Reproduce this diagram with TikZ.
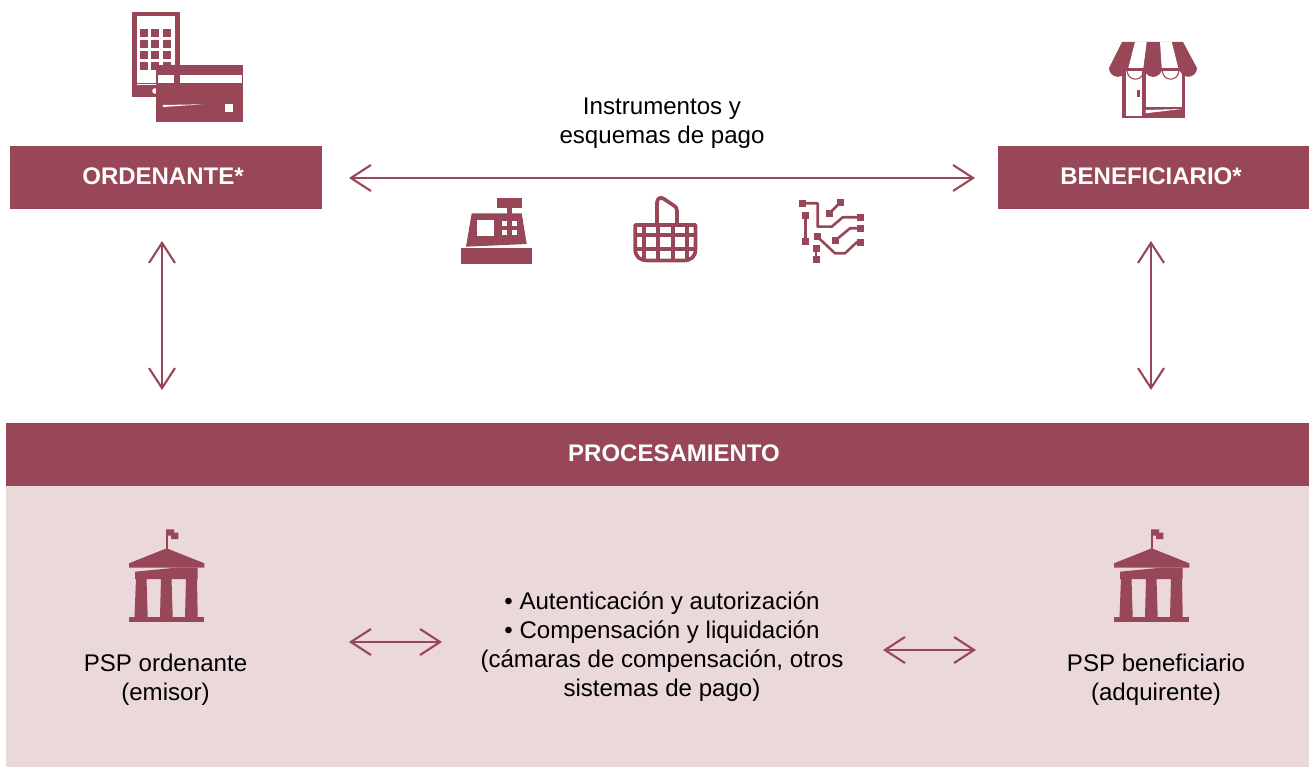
\documentclass[tikz,border=0pt]{standalone}
\usepackage{fontspec}
\setmainfont{Liberation Sans}
\usetikzlibrary{arrows.meta}
\definecolor{wine}{HTML}{974757}
\definecolor{blush}{HTML}{EBD8DB}
\tikzset{
  x=1pt,y=-1pt,
  band/.style={fill=wine,draw=none,inner sep=0pt},
  bandtext/.style={text=white,inner sep=0pt,font=\fontsize{24}{29}\selectfont\bfseries},
  label/.style={align=center,inner sep=0pt,text=black,font=\fontsize{24.1}{29}\selectfont},
  dbl/.style={draw=wine,line width=2.1pt,{Straight Barb[length=20pt,width=26pt]}-{Straight Barb[length=20pt,width=26pt]}},
  trace/.style={draw=wine,line width=2.6pt,line join=round},
  pad/.style={fill=wine,draw=none},
  bank/.pic={
    \fill[wine] (165.9,530) rectangle (167.6,549);
    \fill[wine] (166.2,529.3) -- (174,529.3) -- (174,532.7) -- (178.3,532.7) -- (178.3,539) -- (171,539) -- (171,535.7) -- (166.2,535.7) -- cycle;
    \fill[wine] (166.7,548.3) -- (204.3,563.3) -- (204.3,567.7) -- (129,567.7) -- (129,563.3) -- cycle;
    \fill[wine] (135,571.7) -- (178,567.5) -- (197.7,567.5) -- (197.7,579) -- (135,579) -- cycle;
    \fill[wine] (136,578) -- (146.5,578) -- (147.7,617) -- (134.5,617) -- cycle;
    \fill[wine] (161,578) -- (171.5,578) -- (172.7,617) -- (160,617) -- cycle;
    \fill[wine] (186,578) -- (197,578) -- (197.7,617) -- (185,617) -- cycle;
    \fill[wine] (129,616.7) rectangle (204,622.3);
  }
}
\begin{document}
\begin{tikzpicture}
\useasboundingbox (0,0) rectangle (1309,767);
% panels
\fill[blush] (6,486) rectangle (1309,767);
\node[band,minimum width=312pt,minimum height=63pt] (ord) at (166,177.5) {};
\node[band,minimum width=311pt,minimum height=63pt] (ben) at (1153.5,177.5) {};
\node[band,minimum width=1303pt,minimum height=63pt] (proc) at (657.5,454.5) {};
\node[bandtext] (ordt) at (163,176) {ORDENANTE*};
\node[bandtext] (bent) at (1151,176) {BENEFICIARIO*};
\node[bandtext] (proct) at (674,453) {PROCESAMIENTO};
% labels
\node[label] (instr) at (662,123.5) {Instrumentos y\\esquemas de pago};
\node[label] (pspo) at (165.5,680) {PSP ordenante\\(emisor)};
\node[label] (pspb) at (1156,680) {PSP beneficiario\\(adquirente)};
\node[label] (midt) at (662,647) {• Autenticación y autorización\\• Compensación y liquidación\\(cámaras de compensación, otros\\sistemas de pago)};
% connectors
\coordinate (h1) at (349,178); \coordinate (h2) at (975,178);
\coordinate (v1a) at (162,241); \coordinate (v1b) at (162,390);
\coordinate (v2a) at (1151,241); \coordinate (v2b) at (1151,390);
\coordinate (m1a) at (349,642); \coordinate (m1b) at (442,642);
\coordinate (m2a) at (883,650); \coordinate (m2b) at (976,650);
\draw[dbl] (h1) -- (h2);
\draw[dbl] (v1a) -- (v1b);
\draw[dbl] (v2a) -- (v2b);
\draw[dbl] (m1a) -- (m1b);
\draw[dbl] (m2a) -- (m2b);
% phone and card
\fill[wine] (131.7,12) rectangle (180,97);
\fill[white] (137,16) rectangle (175,85);
\foreach \cx in {140,151,163} \foreach \cy in {29,40,51,62} \fill[wine] (\cx,\cy) rectangle ++(8,8);
\fill[wine] (137,83) rectangle (175,84.3);
\fill[white] (155,91) circle (2.8);
\fill[wine] (156,65) rectangle (243,122);
\fill[white] (157.5,75) rectangle (174,83);
\fill[white] (180,75) rectangle (242,83);
\fill[white] (163,105) -- (203,104.3) -- (163,107) -- cycle;
\fill[white] (225,104.3) rectangle (233,112.3);
% shop
\fill[wine] (1122.3,68) rectangle (1185,118);
\fill[white] (1125.7,71) rectangle (1142.3,116);
\fill[white] (1145.7,71) rectangle (1181.7,107.3);
\fill[wine] (1122,42) -- (1183,42) -- (1197,68) -- (1109,68) -- cycle;
\fill[white] (1135,42) -- (1146.7,42) -- (1143.3,68) -- (1128.3,68) -- cycle;
\fill[white] (1160,42) -- (1171.7,42) -- (1178.3,68) -- (1161.7,68) -- cycle;
\draw[wine,line width=1.1pt] (1127.2,71) arc (180:0:8.2);
\draw[wine,line width=1.1pt] (1162.4,71) arc (180:0:8.2);
\fill[wine] (1109,68) arc (180:0:8.8) -- cycle;
\fill[wine] (1144.2,68) arc (180:0:8.9) -- cycle;
\fill[wine] (1179.4,68) arc (180:0:8.8) -- cycle;
\fill[wine] (1136.7,90) rectangle (1140,96.7);
\fill[white] (1145.5,110) -- (1181.7,109) -- (1145.5,113.3) -- cycle;
% cash register
\fill[wine] (461,248) rectangle (532,264);
\fill[wine] (471.7,213.3) -- (521.7,213.3) -- (526.7,244) -- (466,246.7) -- cycle;
\fill[wine] (496.7,197.7) rectangle (522,207.7);
\fill[wine] (507.3,207) rectangle (512,214);
\fill[white] (476.7,220.3) rectangle (494.3,235.7);
\foreach \cx in {501.7,512} \foreach \cy in {220.7,230.5} \fill[white] (\cx,\cy) rectangle ++(5.3,5);
% basket
\draw[wine,line width=3.7pt,line join=round] (657,223.3) -- (657,203) .. controls (657,198) and (661,196.5) .. (664,199) -- (673,205) .. controls (676,207) and (677,208) .. (677,211) -- (677,223.3);
\draw[wine,line width=3.7pt,line join=round] (635.2,225) -- (695.5,225) -- (695.5,249) .. controls (695.5,257) and (691,260.5) .. (683,260.5) -- (648,260.5) .. controls (640,260.5) and (635.2,257) .. (635.2,249) -- cycle;
\foreach \gx in {644,658.3,672.7,686.7} \draw[wine,line width=3.7pt] (\gx,225) -- (\gx,260.5);
\foreach \gy in {234.7,248.7} \draw[wine,line width=3.7pt] (635.2,\gy) -- (695.5,\gy);
% circuit
\draw[trace] (802.7,203.3) -- (817.7,203.3) -- (817.7,226.7) -- (831.7,226.7) -- (842.7,217.3) -- (860,217.3);
\draw[trace] (829,213.7) -- (840,202.7);
\draw[trace] (805.7,215.3) -- (805.7,241.7);
\draw[trace] (817.3,236.7) -- (835,253.3) -- (845,253.3) -- (856.7,242.3) -- (860,242.3);
\draw[trace] (835,240.7) -- (850,228.3) -- (860,228.3);
\draw[trace] (816,249) -- (816,260);
\foreach \px/\py in {802.7/203.3,860/217.3,829/213.7,840/202.7,805.7/215.3,805.7/241.7,817.3/236.7,860/242.3,835/240.7,860/228.3,816/249,816/260}
  \fill[pad] (\px-3.5,\py-3.5) rectangle (\px+3.5,\py+3.5);
% banks
\pic {bank};
\pic[xshift=985pt] {bank};
\end{tikzpicture}
\end{document}
